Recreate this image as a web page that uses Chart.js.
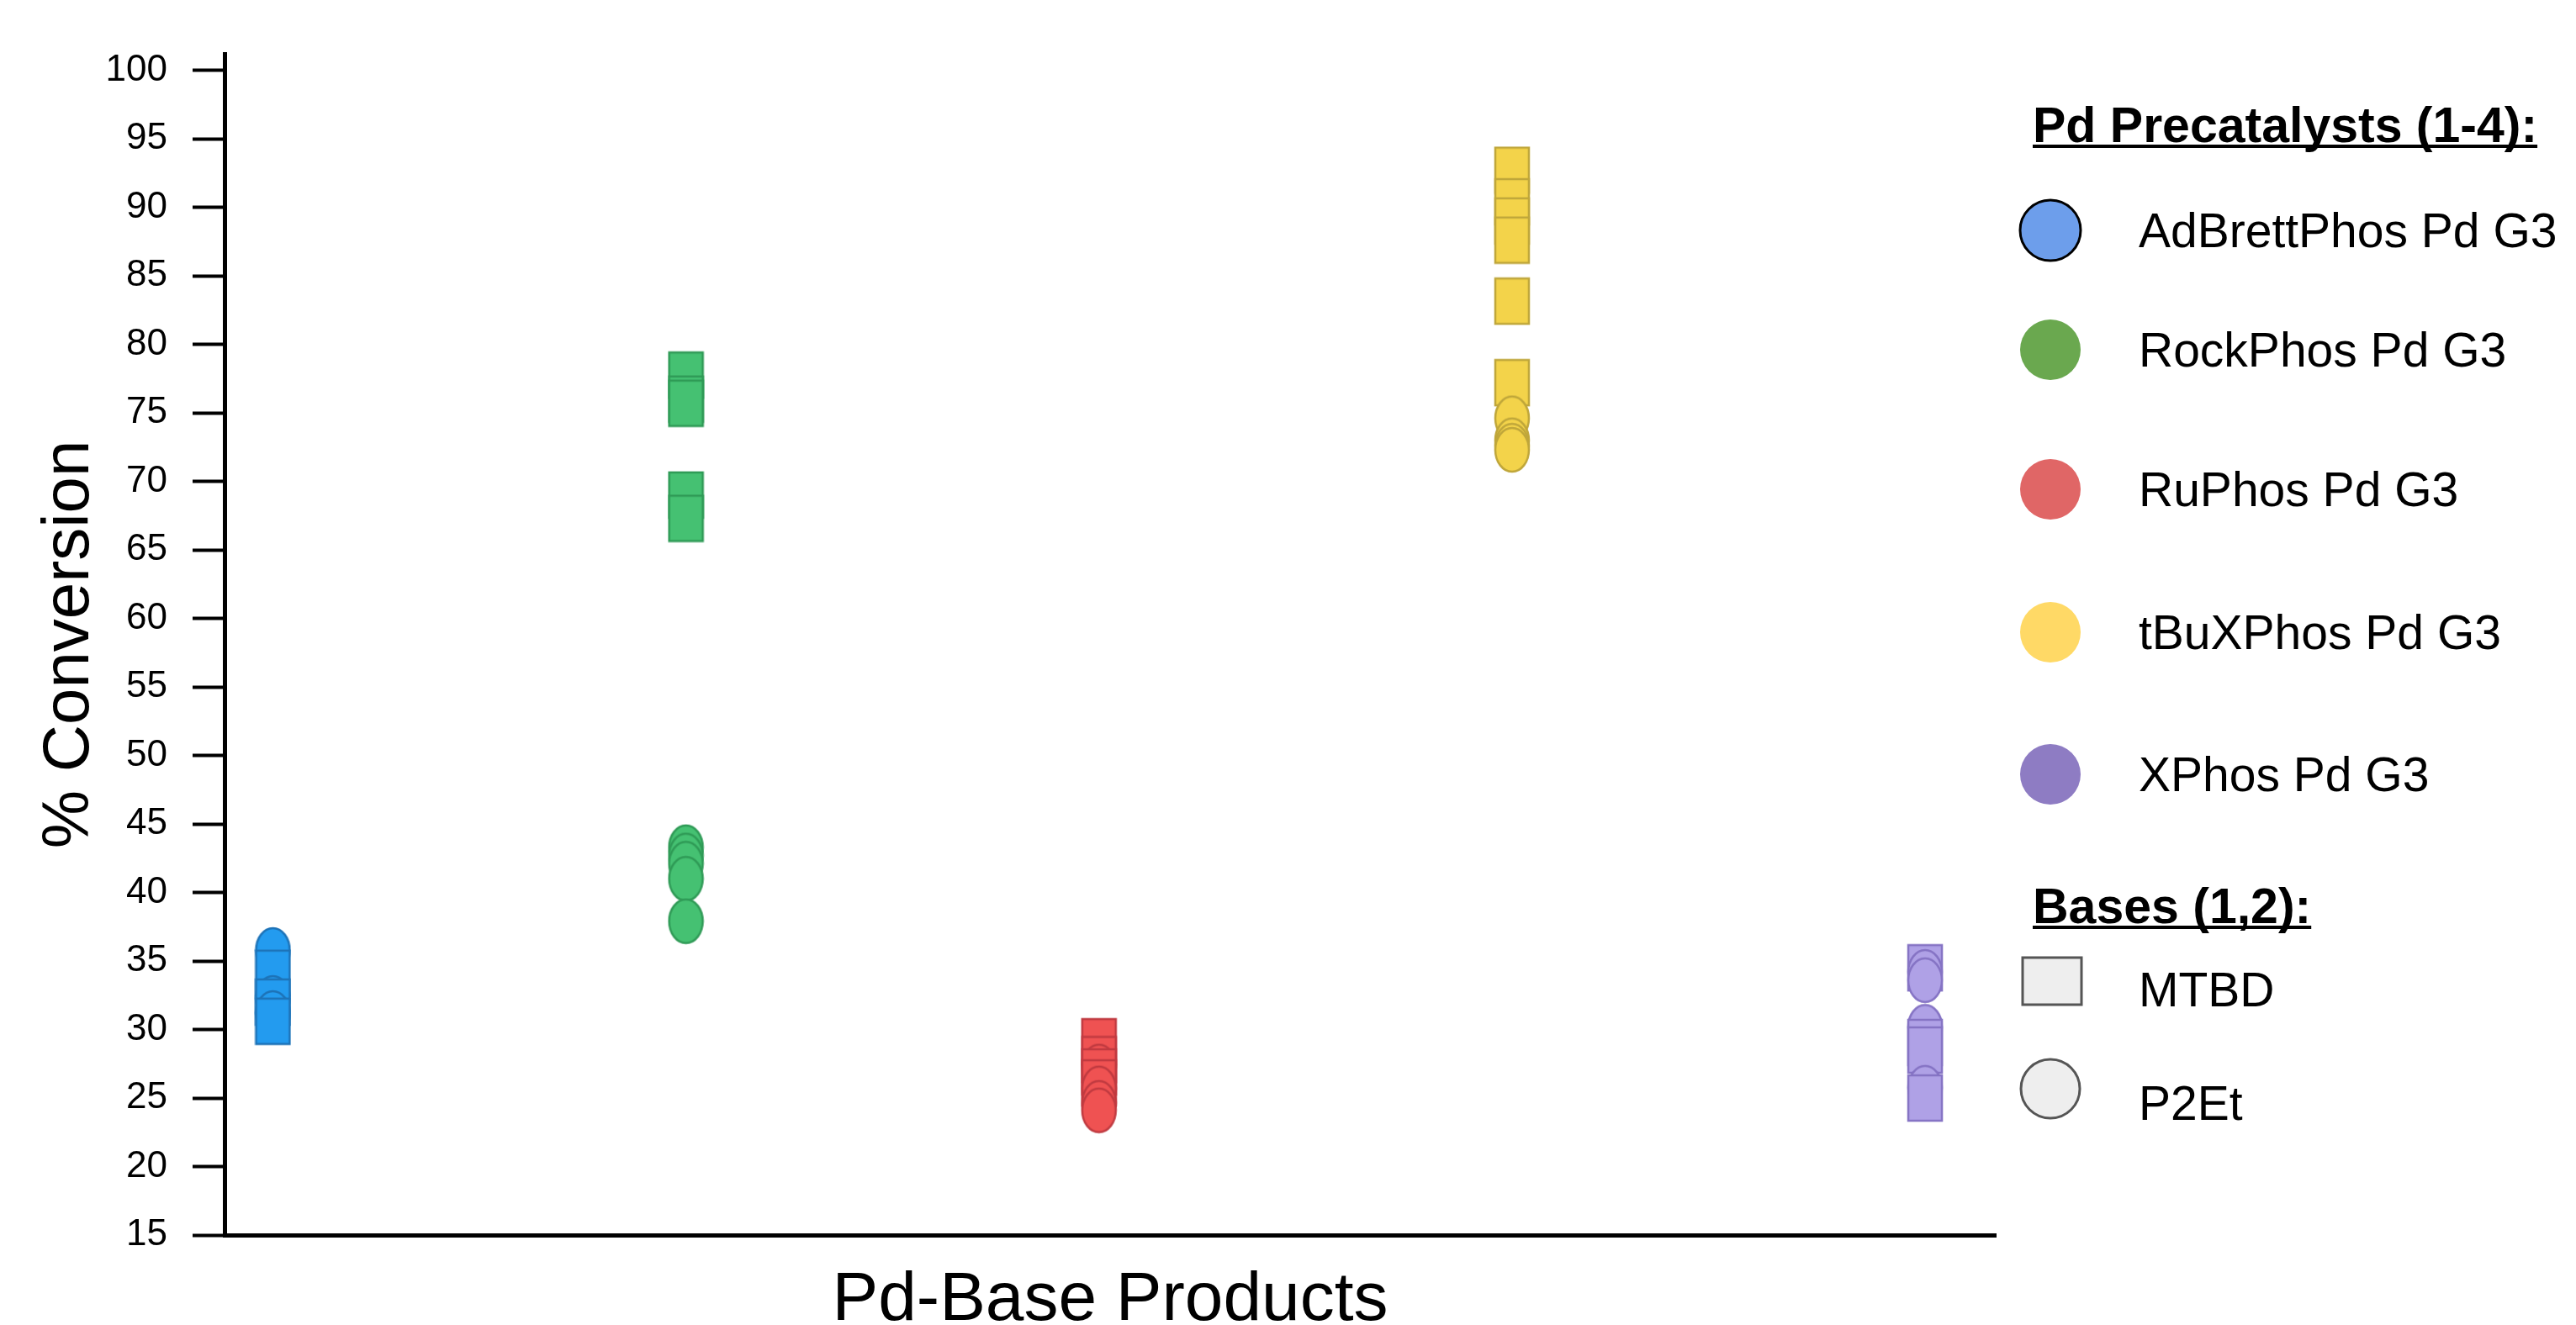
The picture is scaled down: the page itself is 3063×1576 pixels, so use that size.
<!DOCTYPE html>
<html>
<head>
<meta charset="utf-8">
<title>Pd-Base Products</title>
<script src="https://cdn.jsdelivr.net/npm/chart.js@4.4.1/dist/chart.umd.min.js"></script>
<style>
  html, body { margin: 0; padding: 0; background: #fff; }
  #wrap { width: 3063px; height: 1576px; position: relative; }
</style>
</head>
<body>
<div id="wrap"><canvas id="chart" width="3063" height="1576"></canvas></div>
<script>
// --- DATA ---
const catalysts = ['AdBrettPhos Pd G3', 'RockPhos Pd G3', 'RuPhos Pd G3', 'tBuXPhos Pd G3', 'XPhos Pd G3'];
const bases = ['MTBD', 'P2Et'];

// % conversion, one array per precatalyst / base
const adbrettMTBD = [34.1, 32.0, 30.6];
const adbrettP2Et = [35.8, 32.3, 31.2];
const rockMTBD = [77.75, 76.0, 75.7, 69.0, 67.3];
const rockP2Et = [43.3, 42.7, 42.1, 41.0, 37.9];
const ruMTBD = [29.1, 27.8, 26.9, 26.1];
const ruP2Et = [27.3, 25.7, 24.65, 24.1];
const tbuMTBD = [92.7, 90.4, 89.0, 87.6, 83.15, 77.2];
const tbuP2Et = [74.6, 73.0, 72.6, 72.3];
const xphosMTBD = [34.5, 29.05, 28.5, 25.0];
const xphosP2Et = [34.2, 33.6, 30.2, 25.75];

const yTicks = [15, 20, 25, 30, 35, 40, 45, 50, 55, 60, 65, 70, 75, 80, 85, 90, 95, 100];

// --- COLOURS ---
const markerFill = ['#239BEF', '#45C172', '#EF5252', '#F3D34A', '#AFA1E6'];
const markerEdge = ['#1D73B8', '#2F9A56', '#C03A40', '#BFA63A', '#8573C4'];
const legendFill = ['#6D9EEB', '#6AA84F', '#E06666', '#FFD966', '#8E7CC3'];

const FONT = '"Liberation Sans", Arial, Helvetica, sans-serif';

// marker images: MTBD = tall rectangle, P2Et = tall ellipse
function makeMarker(shape, fill, edge) {
    const w = 40, h = shape === 'rect' ? 54 : 52;
    const c = document.createElement('canvas');
    c.width = w + 4;
    c.height = h + 4;
    const g = c.getContext('2d');
    g.fillStyle = fill;
    g.strokeStyle = edge;
    g.lineWidth = 2.5;
    if (shape === 'rect') {
        g.fillRect(2, 2, w, h);
        g.strokeRect(2, 2, w, h);
    } else {
        g.beginPath();
        g.ellipse(c.width / 2, c.height / 2, w / 2, h / 2, 0, 0, Math.PI * 2);
        g.fill();
        g.stroke();
    }
    return c;
}

const seriesByCatalyst = [
    [adbrettMTBD, adbrettP2Et],
    [rockMTBD, rockP2Et],
    [ruMTBD, ruP2Et],
    [tbuMTBD, tbuP2Et],
    [xphosMTBD, xphosP2Et]
];

// one dataset per catalyst; points sorted high -> low so lower marks sit on top
const datasets = catalysts.map((name, i) => {
    const [mtbd, p2et] = seriesByCatalyst[i];
    const pts = [
        ...mtbd.map(v => ({ x: i + 1, y: v, base: bases[0] })),
        ...p2et.map(v => ({ x: i + 1, y: v, base: bases[1] }))
    ].sort((a, b) => b.y - a.y);
    const rectImg = makeMarker('rect', markerFill[i], markerEdge[i]);
    const ellImg = makeMarker('ellipse', markerFill[i], markerEdge[i]);
    return {
        label: name,
        data: pts,
        pointStyle: pts.map(p => p.base === 'MTBD' ? rectImg : ellImg),
        pointRadius: 20,
        showLine: false
    };
});

// --- LEGEND (drawn on the canvas, right of the plot) ---
const legendPlugin = {
    id: 'catalystLegend',
    afterDraw(chart) {
        const ctx = chart.ctx;
        ctx.save();
        ctx.fillStyle = '#000';
        ctx.textAlign = 'left';
        ctx.textBaseline = 'alphabetic';

        function header(text, x, y) {
            ctx.font = 'bold 59px ' + FONT;
            ctx.fillStyle = '#000';
            ctx.fillText(text, x, y);
            const w = ctx.measureText(text).width;
            ctx.fillRect(x, y + 3, w, 4);
        }

        header('Pd Precatalysts (1-4):', 2417, 169);

        const rowY = [274, 416, 582, 752, 921];
        catalysts.forEach((name, i) => {
            ctx.beginPath();
            ctx.arc(2438, rowY[i], 36, 0, Math.PI * 2);
            ctx.fillStyle = legendFill[i];
            ctx.fill();
            if (i === 0) {
                ctx.lineWidth = 3;
                ctx.strokeStyle = '#000';
                ctx.stroke();
            }
            ctx.fillStyle = '#000';
            ctx.font = '57px ' + FONT;
            ctx.fillText(name, 2543, rowY[i] + 20);
        });

        header('Bases (1,2):', 2417, 1098);

        ctx.fillStyle = '#EEEEEE';
        ctx.strokeStyle = '#555';
        ctx.lineWidth = 3;
        ctx.fillRect(2405, 1139, 70, 56);
        ctx.strokeRect(2405, 1139, 70, 56);

        ctx.beginPath();
        ctx.arc(2438, 1295, 35, 0, Math.PI * 2);
        ctx.fill();
        ctx.stroke();

        ctx.fillStyle = '#000';
        ctx.font = '57px ' + FONT;
        ctx.fillText(bases[0], 2543, 1197);
        ctx.fillText(bases[1], 2543, 1332);
        ctx.restore();
    }
};

// --- CHART ---
const ctx = document.getElementById('chart').getContext('2d');
const chart = new Chart(ctx, {
    type: 'scatter',
    data: { datasets },
    options: {
        responsive: false,
        animation: false,
        layout: { padding: { left: 0, top: 64, right: 690, bottom: 0 } },
        scales: {
            x: {
                type: 'linear',
                min: 0.883,
                max: 5.171,
                ticks: { display: false },
                grid: { display: false, drawTicks: false },
                border: { display: true, width: 5, color: '#000' },
                title: {
                    display: true,
                    text: 'Pd-Base Products',
                    color: '#000',
                    font: { family: FONT, size: 82, lineHeight: 1 },
                    padding: { top: 0, bottom: -12 }
                },
                afterFit: s => { s.height = 107; }
            },
            y: {
                min: 15,
                max: 101.2,
                afterBuildTicks: s => { s.ticks = yTicks.map(v => ({ value: v })); },
                ticks: {
                    color: '#000',
                    font: { family: FONT, size: 44 },
                    padding: 30
                },
                grid: {
                    drawOnChartArea: false,
                    drawTicks: true,
                    tickLength: 38,
                    tickWidth: 4,
                    tickColor: '#000'
                },
                border: { display: true, width: 5, color: '#000' },
                title: {
                    display: true,
                    text: '% Conversion',
                    color: '#000',
                    font: { family: FONT, size: 78, lineHeight: 1 },
                    padding: { top: 44, bottom: 0 }
                },
                afterFit: s => { s.width = 267; }
            }
        },
        plugins: {
            legend: { display: false },
            tooltip: { enabled: false }
        },
        events: []
    },
    plugins: [legendPlugin]
});
</script>
</body>
</html>
